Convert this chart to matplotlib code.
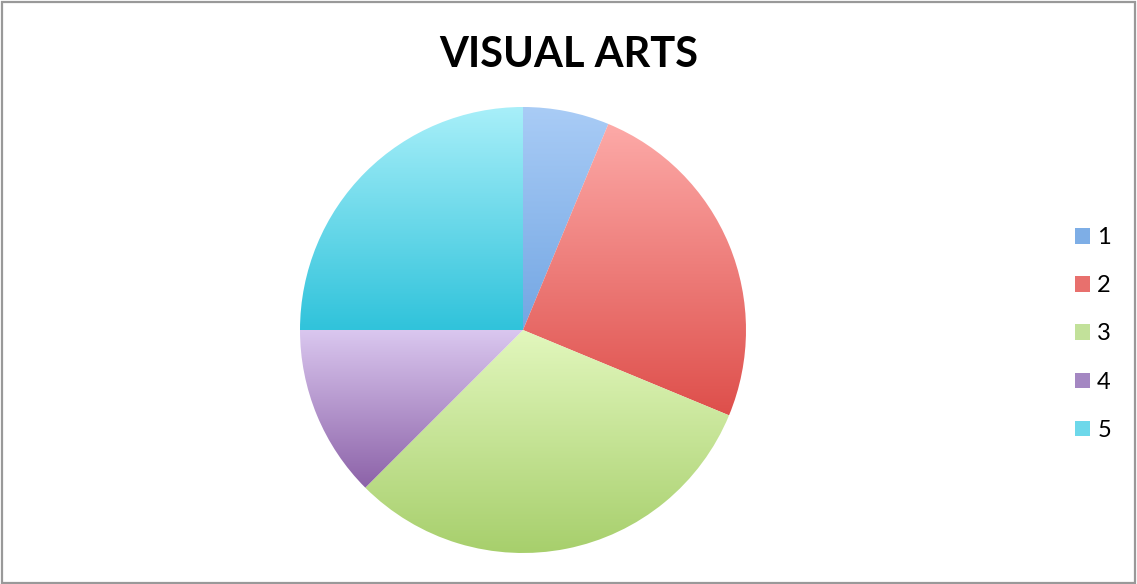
import numpy as np
import matplotlib
matplotlib.use("Agg")
import matplotlib.pyplot as plt
from matplotlib.colors import LinearSegmentedColormap
from matplotlib.patches import Rectangle, Patch

# Data
title = "VISUAL ARTS"
categories = ["1", "2", "3", "4", "5"]
values = [2, 8, 10, 4, 8]

# Top / bottom colours of each slice's vertical gradient
top_colors = ["#a9ccf6", "#fdaaa8", "#e2f7bd", "#dac7ef", "#a8eff9"]
bottom_colors = ["#73a6e3", "#de4f4b", "#a7cf6c", "#8c62a8", "#30c3db"]
legend_colors = ["#7eaee6", "#e8706d", "#c2e19a", "#a487c2", "#6dd8ea"]

W, H, DPI = 1137, 584, 100
fig = plt.figure(figsize=(W / DPI, H / DPI), dpi=DPI)
fig.patch.set_facecolor("white")

# Pie axes: centre (523, 330) px from top, radius 223 px
cx, cy, r_px, half = 523, H - 330, 223, 250
ax = fig.add_axes([(cx - half) / W, (cy - half) / H, 2 * half / W, 2 * half / H])
lim = half / r_px
ax.set_aspect("equal")
ax.axis("off")

wedges, _ = ax.pie(values, startangle=90, counterclock=False, radius=1.0,
                   wedgeprops=dict(linewidth=0))

for w, c0, c1 in zip(wedges, top_colors, bottom_colors):
    th = np.radians(np.linspace(w.theta1, w.theta2, 200))
    xs = np.concatenate([[w.center[0]], w.center[0] + w.r * np.cos(th)])
    ys = np.concatenate([[w.center[1]], w.center[1] + w.r * np.sin(th)])
    cmap = LinearSegmentedColormap.from_list("g", [c1, c0])
    grad = np.linspace(0, 1, 256).reshape(-1, 1)
    im = ax.imshow(grad, cmap=cmap, origin="lower", aspect="auto",
                   extent=(xs.min(), xs.max(), ys.min(), ys.max()),
                   interpolation="bilinear", zorder=2)
    im.set_clip_path(w)
    w.set_facecolor("none")

ax.set_xlim(-lim, lim)
ax.set_ylim(-lim, lim)

# Title
fig.text(569 / W, 1 - 55 / H, title, ha="center", va="center",
         fontsize=30, fontweight="bold", family="Lato")

# Legend
handles = [Patch(facecolor=c, edgecolor="none") for c in legend_colors]
fig.legend(handles, categories, loc="center left",
           bbox_to_anchor=(1075 / W, 1 - 334 / H), frameon=False,
           prop=dict(family="Lato", size=17), handlelength=0.64,
           handleheight=0.64, handletextpad=0.3, labelspacing=1.15,
           borderpad=0, borderaxespad=0)

# Outer border
fig.patches.append(Rectangle((1.5 / W, 1.5 / H), (W - 3.5) / W, (H - 3.5) / H,
                             transform=fig.transFigure, fill=False,
                             edgecolor="#999999", linewidth=1.6))

fig.savefig("out.png", dpi=DPI)
